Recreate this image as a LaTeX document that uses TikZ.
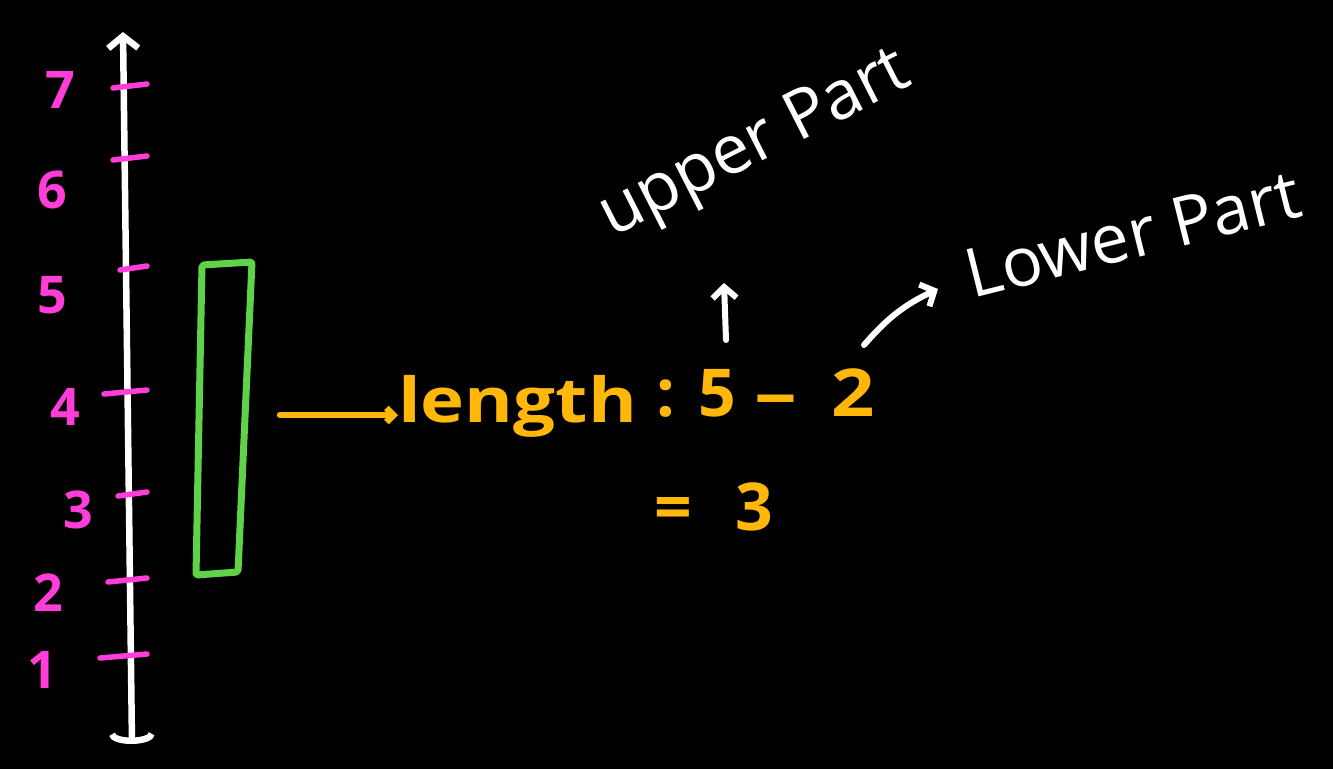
\documentclass[tikz,border=0pt]{standalone}
\usepackage{fontspec}
\setmainfont{Open Sans}
\usetikzlibrary{arrows.meta}
\definecolor{zahlfarbe}{HTML}{FF3DD8}
\definecolor{balkenfarbe}{HTML}{5FD24A}
\definecolor{textgelb}{HTML}{FFB80A}

\begin{document}
\begin{tikzpicture}[x=1pt, y=-1pt, line cap=round, line join=round,
		strich/.style={draw=white, line width=6.5pt},   %Achse
		teilstrich/.style={draw=zahlfarbe, line width=5.5pt},
		ziffer/.style={text=zahlfarbe, font=\fontsize{52}{52}\selectfont\bfseries, inner sep=0pt},
		balken/.style={draw=balkenfarbe, line width=7pt, rounded corners=2pt},
		gelb/.style={text=textgelb, font=\fontsize{62}{62}\selectfont\bfseries, inner sep=0pt},
		gelbpfeil/.style={draw=textgelb, line width=6.5pt, -{Straight Barb[length=7pt,width=14pt]}},
		weiss/.style={text=white, font=\fontsize{68}{68}\selectfont, inner sep=0pt},
		weisspfeil/.style={draw=white, line width=6pt, -{Straight Barb[length=11pt,width=24pt]}}]
		% Hintergrund
		\fill[black] (0,0) rectangle (1333,769);
		% Achse zeichnen
		\coordinate (oben) at (123,32);
		\coordinate (unten) at (132,744);
		\draw[strich, {Straight Barb[length=12pt,width=30pt]}-{Arc Barb[length=10pt,width=46pt]}] (oben) -- (unten);
		% Achse beschriften
		\foreach \n/\y/\a/\lx/\ly in {7/86/113/60/90, 6/158/113/52/190, 5/268/120/52/295,
				4/392/104/65/407, 3/494/118/78/510, 2/580/108/48/593, 1/656/100/42/670}
		{
			\draw[teilstrich] (\a,\y+2) -- (147,\y-2);
			\node[ziffer] (z\n) at (\lx,\ly) {\n};
		}
		% Balken
		\draw[balken] (202,265) -- (252,262) -- (238,572) -- (196,575) -- cycle;
		% Rechnung
		\coordinate (pfeilstart) at (280,415);
		\node[gelb, anchor=base west] (laenge) at (398,422) {\scalebox{1.2}[1]{length}};
		\draw[gelbpfeil] (pfeilstart) -- (pfeilstart -| laenge.west);
		\node[gelb, anchor=base west, font=\fontsize{66}{66}\selectfont\bfseries] (rechnung) at (656,416)
			{:\hspace{24pt}5\hspace{18pt}\scalebox{1.3}[1]{–}\hspace{34pt}\scalebox{1.15}[1]{2}};
		\node[gelb, anchor=base west, font=\fontsize{66}{66}\selectfont\bfseries] (ergebnis) at (654,530)
			{=\hspace{44pt}3};
		% Beschriftung oben
		\node[weiss, rotate=27] (upper) at (756,146) {upper Part};
		\node[weiss, rotate=14] (lower) at (1133,234) {Lower Part};
		\coordinate (hochA) at (726,340);
		\coordinate (hochB) at (724,283);
		\draw[weisspfeil] (hochA) -- (hochB);
		\coordinate (schraegA) at (864,345);
		\coordinate (schraegB) at (938,289);
		\draw[weisspfeil] (schraegA) to[bend left=12] (schraegB);
	\end{tikzpicture}
\end{document}
